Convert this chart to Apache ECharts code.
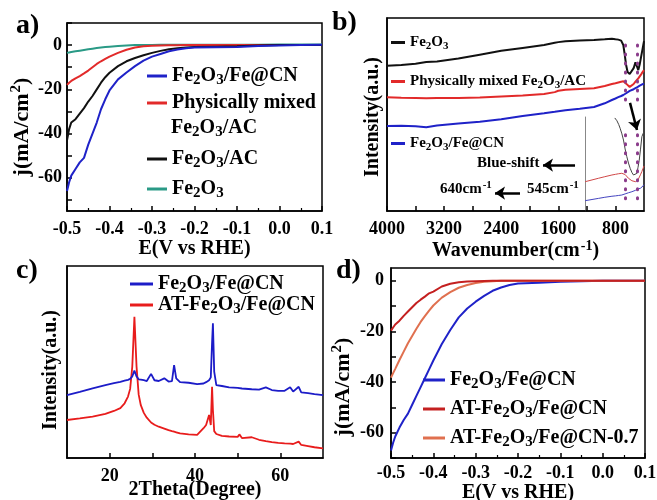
<!DOCTYPE html>
<html>
<head>
<meta charset="utf-8">
<script src="https://cdn.jsdelivr.net/npm/echarts@6/dist/echarts.min.js"></script>
<style>
  html, body { margin: 0; padding: 0; background: #fff; }
  #main { width: 657px; height: 500px; }
</style>
</head>
<body>
<div id="main"></div>
<script>
// a) LSV curves, E (V vs RHE) vs j (mA/cm2)
const aE = [-0.5, -0.495, -0.49, -0.48, -0.47, -0.46, -0.45, -0.44, -0.43, -0.42, -0.41, -0.40, -0.38, -0.36, -0.34, -0.32, -0.30, -0.28, -0.26, -0.24, -0.22, -0.20, -0.15, -0.10, -0.05, 0, 0.05, 0.1];
const aFeCN = [-66, -62, -59, -56, -53, -51, -45, -40, -35, -29, -24.5, -20.5, -15.5, -12.4, -9.5, -7, -5.2, -4, -2.8, -2, -1.4, -1.1, -1.0, -0.9, -0.4, -0.2, 0, 0.2];
const aMixed = [-18, -17, -16.2, -15, -14, -12.8, -11.5, -10, -8.5, -7.3, -6.2, -5.2, -3.5, -2.1, -1.1, -0.5, -0.3, -0.2, -0.1, -0.1, 0, 0, 0, 0, 0, 0, 0, 0];
const aAC = [-43, -38, -35, -33.5, -31, -28.5, -25.5, -23, -20, -17, -14.5, -12.5, -9.5, -7.3, -5.8, -4.6, -3.5, -2.6, -1.9, -1.4, -1.1, -0.9, -0.7, -0.5, -0.2, 0, 0, 0.1];
const aFe2O3 = [-3.5, -3.3, -3.1, -2.8, -2.5, -2.2, -1.9, -1.6, -1.3, -1.1, -0.9, -0.7, -0.4, -0.2, 0, 0.1, 0.1, 0.2, 0.2, 0.2, 0.2, 0.2, 0.2, 0.2, 0.2, 0.3, 0.3, 0.3];

// b) FTIR spectra (arbitrary intensity 0-100)
const bWn = [4000, 3800, 3600, 3450, 3300, 3000, 2700, 2400, 2100, 1800, 1650, 1600, 1500, 1300, 1100, 950, 850, 800, 760, 720, 690, 670, 650, 630, 600, 575, 545, 520, 500, 480, 460, 440, 420, 400];
const bFe2O3 = [75.2, 75.7, 76.3, 77.2, 77.5, 79, 81, 83, 84.5, 86, 87.2, 87.5, 88, 88.3, 88.6, 89, 89.3, 89, 88.8, 88.3, 86, 81, 75.5, 72, 71, 71.5, 74, 77, 75, 73, 76, 80, 84, 88];
const bMixed = [58.9, 58.7, 58.6, 58.4, 58.5, 58.5, 58.8, 59.3, 59.8, 60.6, 61.6, 62.3, 62.8, 63.2, 63.6, 64.8, 65.8, 66.2, 66.6, 67, 67.2, 66.8, 66, 65, 64.3, 64.6, 65.8, 67, 67.7, 68.7, 69.7, 70.8, 72, 73];
const bFeCN = [44, 44.2, 43.9, 43.4, 44.3, 45.3, 46.3, 47.5, 49.2, 50.6, 51.4, 51.7, 52.2, 53, 53.9, 55.8, 57.5, 58.3, 59, 59.6, 60.1, 60.5, 61, 61.5, 62.2, 62.6, 63.1, 63.6, 64, 64.5, 65, 65.4, 65.7, 66];
const bTicks = [800, 1600, 2400, 3200, 4000];
const bMarks = [660, 498];

// b) inset
const iWn = [1225, 1040, 950, 850, 800, 760, 735, 712, 690, 665, 640, 618, 595, 570, 547, 520, 500, 485, 467, 450, 430, 415, 400];
const iMixed = [31.2, 34.8, 36.5, 38.3, 39, 39.6, 40, 40.1, 39.8, 38.8, 37, 34.8, 33.5, 32.2, 31.2, 31.2, 32, 33, 35, 38.5, 42, 45, 48];
const iFeCN = [11, 13.4, 14.6, 15.7, 16.1, 16.5, 16.8, 17, 17.5, 18.2, 18.8, 19.4, 20, 20.5, 21.2, 22, 22.7, 23.3, 23.8, 24.2, 25.3, 26.5, 28];
const iBlackWn = [810, 780, 755, 735, 710, 688, 665, 641, 618, 594, 570, 547, 520, 500, 485, 467, 450, 430, 415, 400];
const iFe2O3 = [99, 96, 92, 88, 82, 75.5, 66, 57.8, 51, 45.4, 41, 38.3, 38, 40, 46, 54, 65, 79, 82, 84];

// c) XRD patterns (arbitrary intensity 0-100)
const cTheta = [10, 13, 16, 19, 21, 22.5, 23.5, 24.3, 24.8, 25.3, 25.8, 26.3, 26.8, 27.3, 28, 28.7, 29.7, 30.5, 31.5, 32.8, 33.8, 34.6, 35.1, 35.6, 36.5, 38.5, 40.5, 42, 42.6, 43.3, 43.7, 44.0, 44.2, 44.5, 45, 46.3, 48, 50, 50.4, 51, 53.3, 55, 56.6, 58, 59.5, 61, 62.3, 63, 64.3, 64.9, 66.5, 68, 70];
const cFeCN = [32.8, 34.5, 36.3, 38, 39, 39.7, 40.3, 40.7, 41.2, 42.5, 45.5, 42.5, 41, 40.8, 40.5, 40.1, 43.8, 40.5, 40.1, 41.5, 39.8, 40, 48.4, 41.5, 39.5, 39.2, 38.5, 38.8, 39.5, 40.5, 42, 60, 70.2, 45, 38, 37.5, 36.8, 36.5, 36.4, 36.2, 35.8, 35.6, 36.8, 35.4, 35, 35, 36.8, 34.6, 37.1, 34.2, 33.8, 33.3, 32.7];
const cAT = [19.8, 20.6, 21.5, 23, 24.5, 26, 28.5, 32, 36, 47.6, 73.6, 47.6, 33, 27.5, 23.5, 21, 18.5, 17.3, 16.3, 15.3, 14.5, 14, 13.7, 13.4, 12.8, 12.3, 12, 15.5, 17.2, 22.4, 17.2, 37.1, 25, 14, 12.5, 11.5, 11.2, 11, 12.3, 10.4, 10.8, 9.5, 8.8, 8.3, 7.9, 7.6, 7.5, 7.3, 8.5, 6.8, 6.2, 5.6, 5];
const cTicks = [20, 40, 60];

// d) LSV curves after acid treatment
const dE = aE;
const dFeCN = [-67, -64, -61.5, -58, -55, -52.5, -49, -45.5, -42, -38.5, -35, -31.5, -25, -19.5, -14.5, -11, -8.3, -6, -4, -2.7, -1.7, -1.1, -0.8, -0.4, -0.2, 0, 0, 0];
const dAT = [-19.7, -18.5, -17.3, -15.8, -13.9, -12.2, -10.5, -8.8, -7.5, -6.3, -5.0, -4.3, -2.3, -1.2, -0.6, -0.3, -0.2, -0.1, 0, 0, 0, 0, 0, 0, 0, 0, 0, 0];
const dAT07 = [-38.3, -36.5, -34.8, -31.3, -28, -24.7, -21.8, -19, -16.3, -14, -11.8, -9.8, -6.7, -4.5, -2.8, -1.7, -0.9, -0.4, -0.2, 0, 0, 0, 0, 0, 0, 0, 0, 0];
const jTicks = [-60, -40, -20, 0];

const SERIF = '"Liberation Serif", "Times New Roman", serif';
const T = { fontFamily: SERIF, fontWeight: 'bold', color: '#000' };

function richSet(fs) {
  return {
    t: Object.assign({ fontSize: fs, lineHeight: Math.round(fs * 1.2) }, T),
    s: Object.assign({ fontSize: Math.round(fs * 0.75), lineHeight: Math.round(fs * 0.7), verticalAlign: 'bottom' }, T),
    p: Object.assign({ fontSize: Math.round(fs * 0.7), lineHeight: Math.round(fs * 0.7), verticalAlign: 'top', padding: [0, 0, 0, 1] }, T)
  };
}
const rich20 = richSet(20);
const rich22 = richSet(22);
const rich15 = richSet(15);

function fe2o3(pre, post) {
  return (pre ? '{t|' + pre + '}' : '') + '{t|Fe}{s|2}{t|O}{s|3}' + (post ? '{t|' + post + '}' : '');
}

const labels = {
  a1: fe2o3('', '/Fe@CN'),
  a2: '{t|Physically mixed}',
  a3: fe2o3('', '/AC'),
  a4: fe2o3('', ''),
  b1: fe2o3('', ''),
  b2: fe2o3('Physically mixed ', '/AC'),
  b3: fe2o3('', '/Fe@CN'),
  c1: fe2o3('', '/Fe@CN'),
  c2: fe2o3('AT-', '/Fe@CN'),
  d1: fe2o3('', '/Fe@CN'),
  d2: fe2o3('AT-', '/Fe@CN'),
  d3: fe2o3('AT-', '/Fe@CN-0.7')
};

function zip(xs, ys) {
  return xs.map((x, i) => [x, ys[i]]);
}

function line(name, xs, ys, color, gi, width) {
  return {
    type: 'line',
    name: name,
    xAxisIndex: gi,
    yAxisIndex: gi,
    data: zip(xs, ys),
    showSymbol: false,
    symbol: 'none',
    silent: true,
    lineStyle: { color: color, width: width || 2 },
    itemStyle: { color: color }
  };
}

function legend(ids, left, top, gap, fs, iw) {
  return {
    data: ids,
    left: left,
    top: top,
    orient: 'vertical',
    itemGap: gap,
    itemWidth: iw,
    itemHeight: 3,
    icon: 'rect',
    padding: 0,
    selectedMode: false,
    formatter: n => labels[n],
    textStyle: { rich: fs === 15 ? rich15 : rich20 }
  };
}

const tickLabel = Object.assign({ fontSize: 18 }, T);
const frame = { show: true, onZero: false, lineStyle: { color: '#000', width: 1.5 } };
const inTick = { show: true, inside: true, length: 5, lineStyle: { color: '#000', width: 1.5 } };

function grid(left, top, width, height, border) {
  return {
    left: left, top: top, width: width, height: height,
    show: border, borderColor: '#000', borderWidth: 1.5,
    containLabel: false, outerBoundsMode: 'none'
  };
}

const BLUE = '#1f22c8';
const RED = '#e22a2a';

const option = {
  animation: false,
  backgroundColor: '#fff',
  grid: [
    grid(67, 23, 255, 188, true),
    grid(387, 18, 257, 193, true),
    grid(67, 266, 256, 192, true),
    grid(391, 268, 254, 190, true),
    grid(585, 117, 59, 94, false)
  ],
  xAxis: [
    {
      gridIndex: 0, type: 'value', min: -0.5, max: 0.1, interval: 0.1,
      axisLine: frame, axisTick: inTick, splitLine: { show: false },
      minorTick: { show: true, splitNumber: 2, length: 3, lineStyle: { color: '#000', width: 1.2 } },
      axisLabel: Object.assign({ margin: 9, formatter: v => v.toFixed(1) }, tickLabel),
      name: '{t|E(V vs RHE)}', nameLocation: 'middle', nameGap: 26, nameTextStyle: { rich: rich20 }
    },
    {
      gridIndex: 1, type: 'value', min: 400, max: 4000, inverse: true,
      axisLine: frame, splitLine: { show: false },
      axisTick: Object.assign({ customValues: [800, 1200, 1600, 2000, 2400, 2800, 3200, 3600, 4000] }, inTick),
      axisLabel: Object.assign({ margin: 9, customValues: bTicks, formatter: v => String(v) }, tickLabel),
      name: '{t|Wavenumber(cm}{p|-1}{t|)}', nameLocation: 'middle', nameGap: 26, nameTextStyle: { rich: rich20 }
    },
    {
      gridIndex: 2, type: 'value', min: 10, max: 70,
      axisLine: frame, splitLine: { show: false },
      axisTick: Object.assign({ customValues: [20, 30, 40, 50, 60] }, inTick),
      axisLabel: Object.assign({ margin: 9, customValues: cTicks, formatter: v => String(v) }, tickLabel),
      name: '{t|2Theta(Degree)}', nameLocation: 'middle', nameGap: 20, nameMoveOverlap: false,
      nameTextStyle: { rich: rich20 }
    },
    {
      gridIndex: 3, type: 'value', min: -0.5, max: 0.1, interval: 0.1,
      axisLine: frame, axisTick: inTick, splitLine: { show: false },
      minorTick: { show: true, splitNumber: 2, length: 3, lineStyle: { color: '#000', width: 1.2 } },
      axisLabel: Object.assign({ margin: 6, formatter: v => v.toFixed(1) }, tickLabel),
      name: '{t|E(V vs RHE)}', nameLocation: 'middle', nameGap: 22, nameTextStyle: { rich: rich20 }
    },
    {
      gridIndex: 4, type: 'value', min: 400, max: 1228, inverse: true,
      axisLine: { show: false }, axisTick: { show: false }, axisLabel: { show: false }, splitLine: { show: false }
    }
  ],
  yAxis: [
    {
      gridIndex: 0, type: 'value', min: -75, max: 10,
      axisLine: frame, splitLine: { show: false },
      axisTick: Object.assign({ customValues: [-70, -60, -50, -40, -30, -20, -10, 0, 10] }, inTick),
      axisLabel: Object.assign({ margin: 5, customValues: jTicks, formatter: v => String(v) }, tickLabel),
      name: '{t|j(mA/cm}{p|2}{t|)}', nameLocation: 'middle', nameGap: 32,
      nameTextStyle: { rich: rich22, padding: [0, 20, 0, 0] }
    },
    {
      gridIndex: 1, type: 'value', min: 0, max: 100,
      axisLine: frame, axisTick: { show: false }, axisLabel: { show: false }, splitLine: { show: false },
      name: '{t|Intensity(a.u.)}', nameLocation: 'middle', nameGap: 2,
      nameTextStyle: { rich: rich20, padding: [0, 5, 0, 0] }
    },
    {
      gridIndex: 2, type: 'value', min: 0, max: 100,
      axisLine: frame, axisTick: { show: false }, axisLabel: { show: false }, splitLine: { show: false },
      name: '{t|Intensity(a.u.)}', nameLocation: 'middle', nameGap: 4,
      nameTextStyle: { rich: rich20, padding: [0, 16, 0, 0] }
    },
    {
      gridIndex: 3, type: 'value', min: -70, max: 5,
      axisLine: frame, splitLine: { show: false },
      axisTick: Object.assign({ customValues: [-70, -60, -50, -40, -30, -20, -10, 0] }, inTick),
      axisLabel: Object.assign({ margin: 7, customValues: jTicks, formatter: v => String(v) }, tickLabel),
      name: '{t|j(mA/cm}{p|2}{t|)}', nameLocation: 'middle', nameGap: 35,
      nameTextStyle: { rich: rich22, padding: [0, 48, 0, 0] }
    },
    {
      gridIndex: 4, type: 'value', min: 0, max: 100,
      axisLine: { show: true, onZero: false, lineStyle: { color: '#888', width: 1 } },
      axisTick: { show: false }, axisLabel: { show: false }, splitLine: { show: false }
    }
  ],
  legend: [
    legend(['a1', 'a2'], 147, 66, 5, 20, 20),
    legend(['a3', 'a4'], 147, 149, 8, 20, 20),
    legend(['b1'], 391, 35, 0, 15, 14),
    legend(['b2'], 391, 74, 0, 15, 14),
    legend(['b3'], 391, 136, 0, 15, 14),
    legend(['c1'], 130, 274, 0, 20, 23),
    legend(['c2'], 130, 295, 0, 20, 23),
    legend(['d1', 'd2', 'd3'], 423, 370, 7, 20, 22)
  ],
  series: [
    line('a4', aE, aFe2O3, '#2a9a86', 0),
    line('a2', aE, aMixed, RED, 0),
    line('a3', aE, aAC, '#111', 0),
    line('a1', aE, aFeCN, BLUE, 0),

    line('b1', bWn, bFe2O3, '#111', 1),
    Object.assign(line('b2', bWn, bMixed, RED, 1), {
      markLine: {
        silent: true, symbol: ['none', 'arrow'], symbolSize: 10,
        label: { show: false },
        lineStyle: { color: '#000', width: 2.5, type: 'solid' },
        data: [
          [{ coord: [1366, 23.8] }, { coord: [1815, 23.8] }],
          [{ coord: [2137, 9.3] }, { coord: [2487, 9.3] }],
          [{ coord: [596, 56] }, { coord: [498, 42] }]
        ]
      }
    }),
    Object.assign(line('b3', bWn, bFeCN, BLUE, 1), {
      markLine: {
        silent: true, symbol: 'none', label: { show: false },
        lineStyle: { color: '#8b3c8b', width: 3, type: [1, 8], cap: 'round' },
        data: bMarks.map(w => [{ coord: [w, 86] }, { coord: [w, 56.5] }])
      }
    }),

    line('i1', iBlackWn, iFe2O3, '#444', 4, 1),
    line('i2', iWn, iMixed, '#d04848', 4, 1),
    Object.assign(line('i3', iWn, iFeCN, '#4444c0', 4, 1), {
      markLine: {
        silent: true, symbol: 'none', label: { show: false },
        lineStyle: { color: '#8b3c8b', width: 3, type: [1, 8], cap: 'round' },
        data: bMarks.map(w => [{ coord: [w, 81] }, { coord: [w, 11.7] }])
      }
    }),

    line('c2', cTheta, cAT, '#e81c1c', 2, 1.8),
    line('c1', cTheta, cFeCN, '#1c1cc8', 2, 1.8),

    line('d1', dE, dFeCN, BLUE, 3),
    line('d3', dE, dAT07, '#e0704f', 3),
    line('d2', dE, dAT, '#c42020', 3)
  ],
  graphic: [
    { type: 'text', left: 16, top: 12, style: { text: 'a)', font: 'bold 28px "Liberation Serif"', fill: '#000' } },
    { type: 'text', left: 332, top: 9, style: { text: 'b)', font: 'bold 28px "Liberation Serif"', fill: '#000' } },
    { type: 'text', left: 16, top: 257, style: { text: 'c)', font: 'bold 28px "Liberation Serif"', fill: '#000' } },
    { type: 'text', left: 336, top: 257, style: { text: 'd)', font: 'bold 28px "Liberation Serif"', fill: '#000' } },
    { type: 'text', left: 171, top: 118, style: { text: fe2o3('', '/AC'), rich: rich20 } },
    { type: 'text', left: 477, top: 156, style: { text: '{t|Blue-shift}', rich: rich15 } },
    { type: 'text', left: 440, top: 180, style: { text: '{t|640cm}{p|-1}', rich: rich15 } },
    { type: 'text', left: 527, top: 180, style: { text: '{t|545cm}{p|-1}', rich: rich15 } }
  ]
};

const chart = echarts.init(document.getElementById('main'), null, { renderer: 'canvas' });
chart.setOption(option);
</script>
</body>
</html>
